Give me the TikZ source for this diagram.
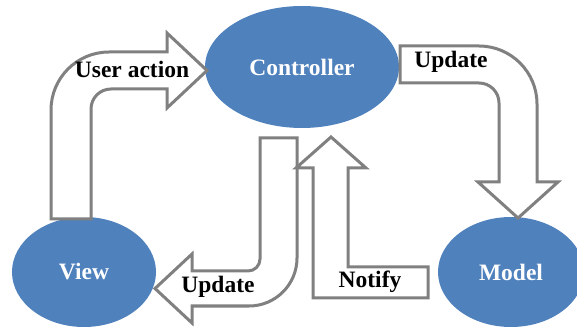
\documentclass[tikz,border=0pt]{standalone}
\usepackage{fontspec}
\setmainfont{Liberation Serif}
\usetikzlibrary{shapes.geometric}
\definecolor{ellblue}{HTML}{4F81BD}
\definecolor{arrgray}{HTML}{808080}
\begin{document}
\begin{tikzpicture}[x=1pt,y=1pt,
  blockarrow/.style={draw=arrgray, fill=white, line width=3pt, line join=miter},
  mvc/.style={ellipse, fill=ellblue, inner sep=0pt, text=white,
    font=\fontsize{23.5}{27}\selectfont\bfseries},
  lbl/.style={anchor=base, inner sep=0pt, text=black,
    font=\fontsize{23.5}{27}\selectfont\bfseries}]
\useasboundingbox (0,0) rectangle (577,326);
% ellipses
\node[mvc, minimum width=194pt, minimum height=122pt] (ctrl) at (302,259) {Controller};
\node[mvc, minimum width=144pt, minimum height=110pt] (view) at (84,54) {View};
\node[mvc, minimum width=146pt, minimum height=110pt] (model) at (511,54) {Model};
% User action arrow (View -> Controller)
\draw[blockarrow] (51,107) -- (51,216) arc[start angle=180, end angle=90, radius=58pt]
  -- (167,274) -- (167,293) -- (207,255.5) -- (167,218) -- (167,237)
  -- (111,237) arc[start angle=90, end angle=180, radius=20pt] -- (91,107) -- cycle;
% Update arrow (Controller -> Model)
\draw[blockarrow] (400,280) -- (479,280) arc[start angle=90, end angle=0, radius=58pt]
  -- (537,144) -- (558,144) -- (518,108) -- (478,144) -- (499,144)
  -- (499,223) arc[start angle=0, end angle=90, radius=20pt] -- (400,243) -- cycle;
% Update arrow (Controller -> View)
\draw[blockarrow] (260,188) -- (297,188) -- (297,68) arc[start angle=0, end angle=-90, radius=48pt]
  -- (192,20) -- (192,3) -- (155,37.5) -- (192,72) -- (192,55)
  -- (248,55) arc[start angle=-90, end angle=0, radius=12pt] -- cycle;
% Notify arrow (Model -> Controller)
\draw[blockarrow] (313,158) -- (313,28) -- (428,28) -- (428,59) -- (348,59)
  -- (348,158) -- (366,158) -- (331,189) -- (296,158) -- cycle;
% labels
\node[lbl] (lua) at (132,248) {User action};
\node[lbl] (lu1) at (451,258) {Update};
\node[lbl] (lu2) at (218,33) {Update};
\node[lbl] (lno) at (370,38) {Notify};
\end{tikzpicture}
\end{document}
